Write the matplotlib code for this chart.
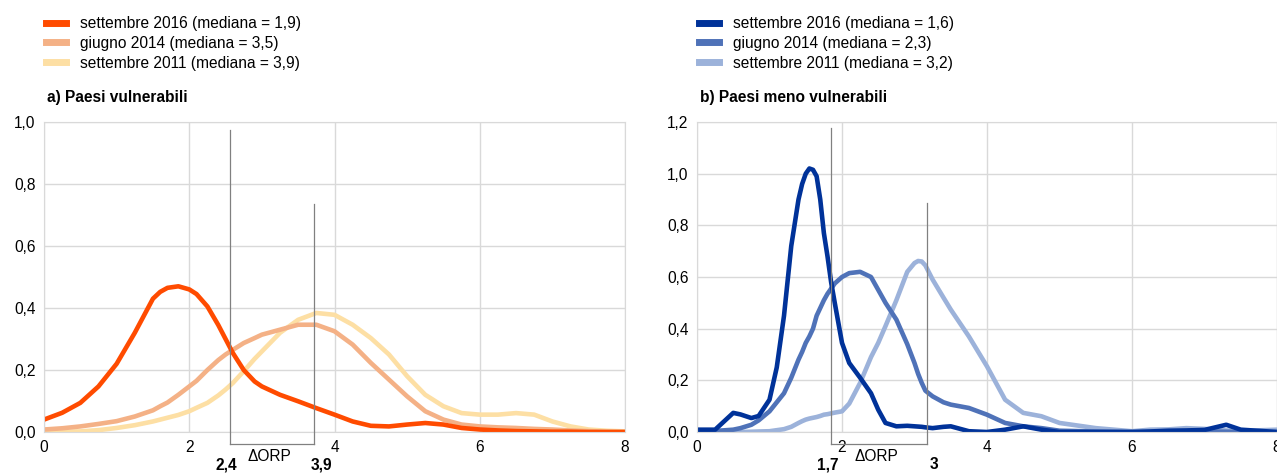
import numpy as np
import matplotlib
matplotlib.use("Agg")
import matplotlib.pyplot as plt
from matplotlib.lines import Line2D

plt.rcParams['font.family'] = ['Liberation Sans', 'DejaVu Sans']

# %% data

# panel a) Paesi vulnerabili
xa = [0, 0.25, 0.5, 0.75, 1.0, 1.25, 1.5, 1.6, 1.7, 1.85, 2.0, 2.1, 2.25, 2.4,
      2.5, 2.6, 2.75, 2.9, 3.0, 3.25, 3.5, 3.75, 4.0, 4.25, 4.5, 4.75, 5.0, 5.25,
      5.5, 5.75, 6.0, 6.25, 6.5, 6.75, 7.0, 7.25, 7.5, 7.75, 8.0]
a_2016 = [0.040, 0.062, 0.094, 0.147, 0.22, 0.32, 0.43, 0.452, 0.465, 0.47, 0.46,
          0.445, 0.405, 0.345, 0.30, 0.255, 0.20, 0.163, 0.147, 0.12, 0.099, 0.077,
          0.056, 0.034, 0.020, 0.018, 0.024, 0.029, 0.024, 0.013, 0.008, 0.005,
          0.003, 0.002, 0.001, 0.001, 0.0, 0.0, 0.0]
a_2014 = [0.008, 0.012, 0.018, 0.026, 0.035, 0.05, 0.07, 0.083, 0.095, 0.12, 0.147,
          0.165, 0.20, 0.232, 0.25, 0.265, 0.287, 0.303, 0.314, 0.33, 0.346, 0.346,
          0.325, 0.282, 0.223, 0.169, 0.115, 0.067, 0.040, 0.024, 0.018, 0.015,
          0.013, 0.010, 0.008, 0.005, 0.003, 0.001, 0.0]
a_2011 = [0.0, 0.001, 0.002, 0.006, 0.013, 0.022, 0.034, 0.040, 0.046, 0.055, 0.067,
          0.078, 0.094, 0.118, 0.137, 0.158, 0.196, 0.236, 0.26, 0.32, 0.362, 0.384,
          0.378, 0.346, 0.303, 0.25, 0.18, 0.12, 0.083, 0.061, 0.056, 0.056, 0.061,
          0.056, 0.034, 0.018, 0.008, 0.004, 0.002]

# panel b) Paesi meno vulnerabili
xb = [0, 0.25, 0.5, 0.6, 0.75, 0.85, 1.0, 1.1, 1.2, 1.3, 1.4, 1.45, 1.5, 1.55,
      1.6, 1.65, 1.7, 1.75, 1.8, 1.85, 1.9, 2.0, 2.1, 2.25, 2.4, 2.5, 2.6, 2.75,
      2.9, 3.0, 3.05, 3.1, 3.15, 3.25, 3.4, 3.5, 3.75, 4.0, 4.25, 4.5, 4.75, 5.0,
      5.5, 6.0, 6.25, 6.5, 6.75, 7.0, 7.3, 7.5, 8.0]
b_2016 = [0.009, 0.009, 0.074, 0.068, 0.054, 0.062, 0.125, 0.25, 0.45, 0.72, 0.90,
          0.96, 1.0, 1.02, 1.015, 0.99, 0.90, 0.77, 0.68, 0.58, 0.50, 0.345, 0.267,
          0.21, 0.15, 0.086, 0.035, 0.022, 0.024, 0.022, 0.021, 0.020, 0.018, 0.015,
          0.020, 0.022, 0.003, 0.0, 0.009, 0.022, 0.009, 0.0, 0.0, 0.0, 0.002, 0.005,
          0.006, 0.008, 0.028, 0.009, 0.0]
b_2014 = [0.0, 0.004, 0.009, 0.015, 0.028, 0.045, 0.08, 0.115, 0.15, 0.21, 0.28,
          0.31, 0.345, 0.37, 0.40, 0.45, 0.48, 0.51, 0.535, 0.555, 0.575, 0.60,
          0.615, 0.62, 0.60, 0.55, 0.50, 0.435, 0.34, 0.267, 0.225, 0.19, 0.16, 0.138,
          0.115, 0.106, 0.093, 0.067, 0.035, 0.022, 0.015, 0.005, 0.002, 0.0, 0.0,
          0.001, 0.002, 0.002, 0.001, 0.0, 0.0]
b_2011 = [0.0, 0.0, 0.0, 0.0, 0.001, 0.002, 0.003, 0.007, 0.011, 0.02, 0.035, 0.042,
          0.048, 0.052, 0.055, 0.058, 0.062, 0.067, 0.069, 0.072, 0.075, 0.08, 0.11,
          0.19, 0.29, 0.345, 0.41, 0.51, 0.62, 0.654, 0.662, 0.66, 0.645, 0.59, 0.52,
          0.474, 0.37, 0.254, 0.125, 0.074, 0.061, 0.035, 0.015, 0.003, 0.009, 0.010,
          0.015, 0.012, 0.006, 0.004, 0.009]

labels_a = ["settembre 2016 (mediana = 1,9)", "giugno 2014 (mediana = 3,5)",
            "settembre 2011 (mediana = 3,9)"]
labels_b = ["settembre 2016 (mediana = 1,6)", "giugno 2014 (mediana = 2,3)",
            "settembre 2011 (mediana = 3,2)"]
colors_a = ["#FF4B00", "#F4B186", "#FDDFA4"]
colors_b = ["#003299", "#4F72B8", "#9CB2DA"]

# ORP bracket: line positions, tops, and labels
orp_a = {"x": [2.56, 3.72], "top": [0.975, 0.735], "lab": ["2,4", "3,9"]}
orp_b = {"x": [1.85, 3.17], "top": [1.175, 0.885], "lab": ["1,7", "3"]}

FS = 11.2


def comma(v, pos):
    return f"{v:.1f}".replace(".", ",")


fig = plt.figure(figsize=(12.77, 4.76), dpi=100)
axa = fig.add_axes([44 / 1277, 1 - 432 / 476, 581 / 1277, 310 / 476])
axb = fig.add_axes([697 / 1277, 1 - 432 / 476, 580 / 1277, 310 / 476])


def setup(ax, ymax, title, orp, ystep=0.2):
    ax.set_xlim(0, 8)
    ax.set_ylim(0, ymax)
    ax.set_xticks([0, 2, 4, 6, 8])
    ax.set_yticks(np.arange(0, ymax + 0.001, ystep))
    ax.yaxis.set_major_formatter(plt.FuncFormatter(comma))
    ax.grid(True, color="#D9D9D9", lw=1)
    ax.set_axisbelow(True)
    for s in ax.spines.values():
        s.set_color("#D9D9D9")
    ax.tick_params(length=0, labelsize=FS, pad=6)
    ax.text(0.006, 1.055, title, transform=ax.transAxes, fontsize=FS,
            fontweight="bold", va="bottom")

    # bracket
    bot = -0.04 * ymax
    x1, x2 = orp["x"]
    ax.plot([x1, x1], [orp["top"][0], bot], color="#808080", lw=0.9, clip_on=False, zorder=5)
    ax.plot([x2, x2], [orp["top"][1], bot], color="#808080", lw=0.9, clip_on=False, zorder=5)
    ax.plot([x1, x2], [bot, bot], color="#808080", lw=0.9, clip_on=False, zorder=5)
    ylab = -0.105 * ymax
    ax.text(x1 - 0.05, ylab, orp["lab"][0], ha="center", va="center", fontsize=FS,
            fontweight="bold")
    ax.text(x2 + 0.1, ylab, orp["lab"][1], ha="center", va="center", fontsize=FS,
            fontweight="bold")
    ax.text((x1 + x2) / 2 - 0.03, -0.08 * ymax, "\u0394ORP", ha="center", va="center",
            fontsize=FS)


setup(axa, 1.0, "a) Paesi vulnerabili", orp_a)
setup(axb, 1.2, "b) Paesi meno vulnerabili", orp_b)

# draw the lighter series first so the darkest is on top
for ys, c in zip([a_2011, a_2014, a_2016], colors_a[::-1]):
    axa.plot(xa, ys, color=c, lw=3.3, solid_joinstyle="round", solid_capstyle="round")
for ys, c in zip([b_2011, b_2014, b_2016], colors_b[::-1]):
    axb.plot(xb, ys, color=c, lw=3.3, solid_joinstyle="round", solid_capstyle="round")

h_a = [Line2D([0], [0], color=c, lw=5) for c in colors_a]
h_b = [Line2D([0], [0], color=c, lw=5) for c in colors_b]
fig.legend(h_a, labels_a, loc="upper left", bbox_to_anchor=(40 / 1277, 1 - 10 / 476),
           frameon=False, fontsize=FS, handlelength=1.3, handletextpad=0.9,
           labelspacing=0.3, borderaxespad=0)
fig.legend(h_b, labels_b, loc="upper left", bbox_to_anchor=(693 / 1277, 1 - 10 / 476),
           frameon=False, fontsize=FS, handlelength=1.3, handletextpad=0.9,
           labelspacing=0.3, borderaxespad=0)

fig.savefig("out.png", dpi=100)
